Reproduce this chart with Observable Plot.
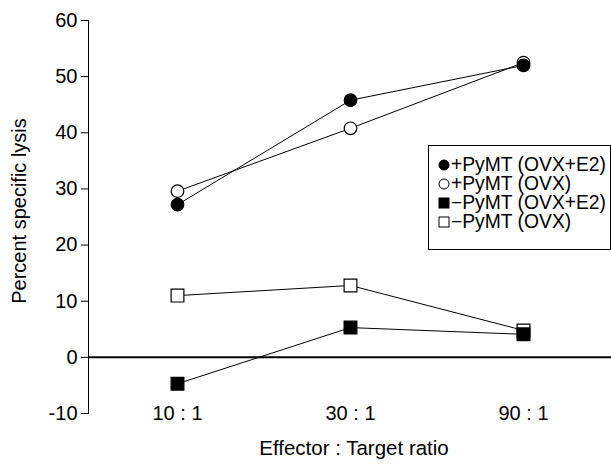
<!DOCTYPE html>
<html>
<head>
<meta charset="utf-8">
<script src="https://cdn.jsdelivr.net/npm/d3@7"></script>
<script src="https://cdn.jsdelivr.net/npm/@observablehq/plot@0.6"></script>
<style>
  html, body { margin: 0; padding: 0; background: white; }
  #wrap { position: relative; width: 611px; height: 465px; font-family: "Liberation Sans", Arial, Helvetica, sans-serif; }
  #legend { position: absolute; left: 428px; top: 145px; width: 183px; height: 105px; border: 1px solid #000; background: #fff; box-sizing: border-box; padding-top: 9px; }
  .row { display: flex; align-items: center; height: 19px; font-size: 19.3px; color: #000; white-space: nowrap; }
  .row svg { margin-left: 9px; margin-right: 1px; flex: none; }
</style>
</head>
<body>
<div id="wrap"></div>
<script>
const ratios = ["10 : 1", "30 : 1", "90 : 1"];
const seriesNames = ["+PyMT (OVX+E2)", "+PyMT (OVX)", "\u2212PyMT (OVX+E2)", "\u2212PyMT (OVX)"];
const pymtOvxE2 = [27.2, 45.8, 52.0];
const pymtOvx = [29.6, 40.8, 52.5];
const noPymtOvxE2 = [-4.7, 5.3, 4.1];
const noPymtOvx = [11.0, 12.8, 4.8];
const yTicks = [-10, 0, 10, 20, 30, 40, 50, 60];

const seriesValues = [pymtOvxE2, pymtOvx, noPymtOvxE2, noPymtOvx];
const seriesSymbol = ["circle", "circle", "square", "square"];
const seriesFill = ["black", "white", "black", "white"];

const data = seriesNames.flatMap((name, i) =>
  ratios.map((r, j) => ({series: name, ratio: r, value: seriesValues[i][j], idx: i})));

const marks = [
  Plot.ruleY([0], {stroke: "black", strokeWidth: 2})
];
seriesNames.forEach((name, i) => {
  marks.push(Plot.line(data.filter(d => d.idx === i), {x: "ratio", y: "value", stroke: "black", strokeWidth: 1}));
});
[3, 2, 1, 0].forEach(i => {
  marks.push(Plot.dot(data.filter(d => d.idx === i), {
    x: "ratio", y: "value", symbol: () => seriesSymbol[i],
    r: seriesSymbol[i] === "square" ? 7.2 : 6.3,
    fill: seriesFill[i], stroke: "black", strokeWidth: 1.2
  }));
});
marks.push(Plot.text(["Effector : Target ratio"], {frameAnchor: "bottom", dx: 4, dy: 35, fontSize: 20.5, lineAnchor: "middle"}));
marks.push(Plot.text(["Percent specific lysis"], {frameAnchor: "left", textAnchor: "middle", dx: -69, dy: -6, rotate: -90, fontSize: 20}));

const chart = Plot.plot({
  width: 611,
  height: 465,
  marginTop: 20,
  marginBottom: 52,
  marginLeft: 88,
  marginRight: 0,
  style: {fontFamily: "\"Liberation Sans\", Arial, Helvetica, sans-serif", fontSize: "20px", color: "black", background: "white", overflow: "visible"},
  x: {type: "point", domain: ratios, padding: 0.51, label: null, tickSize: 0, tickPadding: -8},
  y: {domain: [-10, 60], ticks: yTicks, tickSize: 7, tickPadding: 4, tickFormat: d => String(d), line: true, label: null},
  symbol: {type: "identity"},
  marks
});
const wrap = document.getElementById("wrap");
wrap.appendChild(chart);

const legend = document.createElement("div");
legend.id = "legend";
seriesNames.forEach((name, i) => {
  const row = document.createElement("div");
  row.className = "row";
  const s = d3.create("svg").attr("width", 12).attr("height", 12);
  if (seriesSymbol[i] === "circle") {
    s.append("circle").attr("cx", 6).attr("cy", 6).attr("r", 5).attr("fill", seriesFill[i]).attr("stroke", "black").attr("stroke-width", 1);
  } else {
    s.append("rect").attr("x", 1).attr("y", 1).attr("width", 10).attr("height", 10).attr("fill", seriesFill[i]).attr("stroke", "black").attr("stroke-width", 1);
  }
  row.appendChild(s.node());
  const t = document.createElement("span");
  t.textContent = name;
  row.appendChild(t);
  legend.appendChild(row);
});
wrap.appendChild(legend);
</script>
</body>
</html>
